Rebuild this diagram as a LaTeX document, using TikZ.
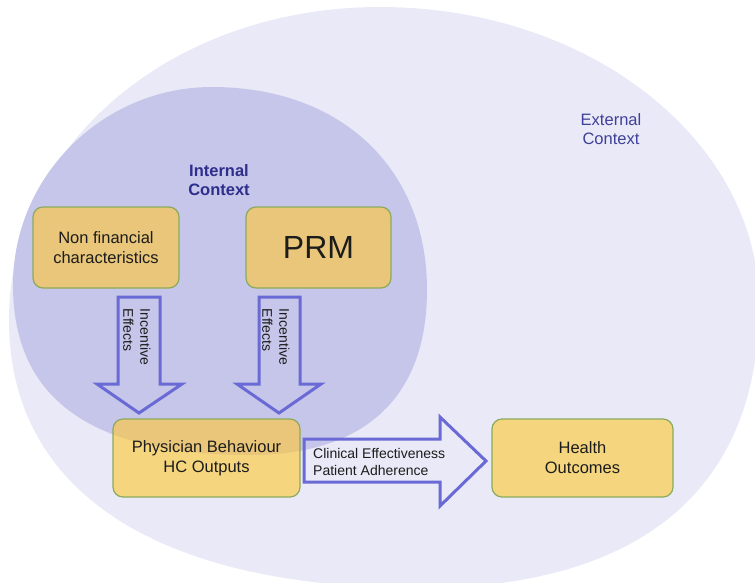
\documentclass[tikz,border=0pt]{standalone}
\usepackage{fontspec}
\setmainfont{Liberation Sans}
\usetikzlibrary{calc}
\definecolor{outerc}{HTML}{E9E9F7}
\definecolor{innerc}{HTML}{C6C6EA}
\definecolor{goldl}{HTML}{F5D67E}
\definecolor{goldd}{HTML}{E9C679}
\definecolor{boxline}{HTML}{8BAA5C}
\definecolor{arrowc}{HTML}{6A6AD6}
\definecolor{navyc}{HTML}{2E2E8C}
\definecolor{navyd}{HTML}{40409A}
\definecolor{txt}{HTML}{1C1C1C}
\pgfdeclarelayer{back}
\pgfdeclarelayer{mid}
\pgfsetlayers{back,mid,main}
\def\outerpath{(380,7) .. controls (589.2,7) and (759,140.5) .. (759,305)
  .. controls (759,489) and (640.4,588) .. (420,588)
  .. controls (157,588) and (9,491.5) .. (9,320)
  .. controls (9,144.7) and (172.2,7) .. (380,7) -- cycle}
\def\innerpath{(212,87) .. controls (341,87) and (427,168.2) .. (427,290)
  .. controls (427,397.3) and (365,455) .. (250,455)
  .. controls (91.2,455) and (13,398.9) .. (13,285)
  .. controls (13,176) and (103,87) .. (212,87) -- cycle}
\begin{document}
\begin{tikzpicture}[x=1pt,y=-1pt,
  box/.style={draw=boxline, line width=1.2pt, rounded corners=10pt, outer sep=0pt,
    inner sep=0pt, align=center, text=txt, font=\fontsize{16.5}{20}\selectfont},
  barrow/.style={draw=arrowc, line width=3pt, line join=miter},
  lbl/.style={text=txt, font=\fontsize{14}{17}\selectfont, align=left, inner sep=0pt}]
\useasboundingbox (0,0) rectangle (755,582);

% boxes
\node[box, minimum width=146pt, minimum height=81pt] (nf) at (106,247.5) {Non financial\\characteristics};
\node[box, minimum width=145pt, minimum height=81pt, font=\fontsize{32}{36}\selectfont] (prm) at (318.5,247.5) {PRM};
\node[box, minimum width=187pt, minimum height=78pt] (pb) at (206.5,458) {Physician Behaviour\\HC Outputs};
\node[box, minimum width=181pt, minimum height=78pt] (ho) at (582.5,458) {Health\\Outcomes};

% context labels
\node[text=navyc, font=\bfseries\fontsize{16.5}{19}\selectfont, align=center, inner sep=0pt] (ic) at (219,180) {Internal\\Context};
\node[text=navyd, font=\fontsize{16.5}{19}\selectfont, align=center, inner sep=0pt] (ec) at (611,129) {External\\Context};

% block arrows
\draw[barrow] (118,297) -- (160,297) -- (160,384) -- (182,384) -- (139,413) -- (97,384) -- (118,384) -- cycle;
\draw[barrow] (259,297) -- (300,297) -- (300,384) -- (321,384) -- (279,413) -- (237,384) -- (259,384) -- cycle;
\draw[barrow] (304,439) -- (440,439) -- (440,417) -- (486,461) -- (440,506) -- (440,482) -- (304,482) -- cycle;

% arrow labels
\node[lbl, rotate=-90] (l1) at (137,337) {Incentive\\Effects};
\node[lbl, rotate=-90] (l2) at (276,337) {Incentive\\Effects};
\node[lbl, anchor=west] (l3) at (313,462) {Clinical Effectiveness\\Patient Adherence};

\begin{pgfonlayer}{back}
  \fill[outerc] \outerpath;
  \fill[innerc] \innerpath;
\end{pgfonlayer}
\begin{pgfonlayer}{mid}
  \foreach \n in {nf,prm,pb,ho}
    \fill[goldl, rounded corners=10pt] (\n.south west) rectangle (\n.north east);
  \begin{scope}
    \clip \innerpath;
    \foreach \n in {nf,prm,pb,ho}
      \fill[goldd, rounded corners=10pt] (\n.south west) rectangle (\n.north east);
  \end{scope}
\end{pgfonlayer}
\end{tikzpicture}
\end{document}
